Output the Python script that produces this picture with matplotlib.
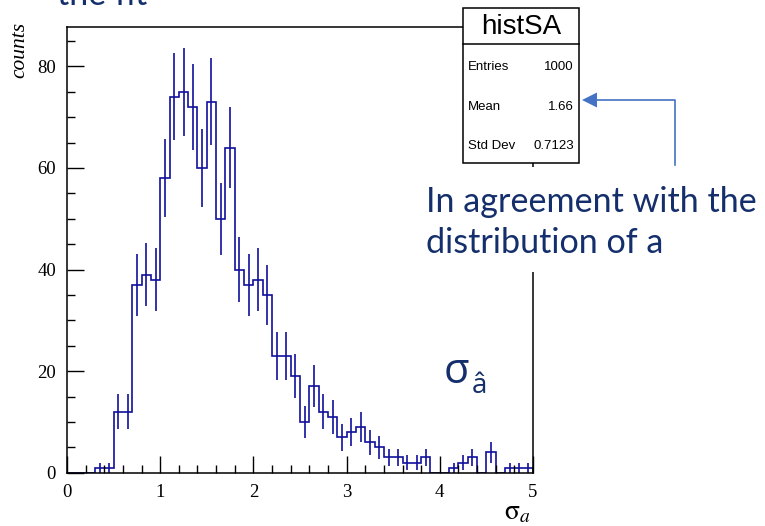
import numpy as np
import matplotlib.pyplot as plt
from matplotlib.patches import Rectangle
from matplotlib.ticker import MultipleLocator

# histSA contents: 50 bins of width 0.1 between 0 and 5
bin_edges = np.round(np.arange(0.0, 5.0001, 0.1), 1)
counts = [0, 0, 0, 1, 1, 12, 12, 37, 39, 38,
          58, 74, 75, 72, 60, 73, 50, 64, 40, 37,
          38, 35, 23, 23, 19, 10, 17, 12, 11, 7,
          8, 9, 6, 5, 3, 3, 2, 2, 3, 0,
          0, 1, 2, 3, 0, 4, 0, 1, 1, 1]

hist_name = 'histSA'
stat_names = ['Entries', 'Mean', 'Std Dev']
stat_values = ['1000', '1.66', '0.7123']

note_lines = ['In agreement with the', 'distribution of a']

HIST_COL = '#10109c'
NAVY = '#142f6b'
ARROW_COL = '#4472c4'

W, H = 765, 526
plt.rcParams['mathtext.fontset'] = 'stix'

fig = plt.figure(figsize=(W / 100, H / 100), dpi=100)

# main frame in pixel units
x0, x1, y_top, y_bot = 67, 533, 26.7, 472.7
ax = fig.add_axes([x0 / W, 1 - y_bot / H, (x1 - x0) / W, (y_bot - y_top) / H])

c = np.array(counts, dtype=float)
centers = 0.5 * (bin_edges[:-1] + bin_edges[1:])
nz = c > 0
ax.stairs(c, bin_edges, color=HIST_COL, lw=1.2)
ax.vlines(centers[nz], c[nz] - np.sqrt(c[nz]), c[nz] + np.sqrt(c[nz]),
          color=HIST_COL, lw=1.2)

ax.set_xlim(0, 5)
ax.set_ylim(0, 87.8)
ax.xaxis.set_major_locator(MultipleLocator(1))
ax.xaxis.set_minor_locator(MultipleLocator(0.2))
ax.yaxis.set_major_locator(MultipleLocator(20))
ax.yaxis.set_minor_locator(MultipleLocator(5))
ax.tick_params(which='both', direction='in', top=False, right=False, width=1)
ax.tick_params(which='major', length=12, labelsize=13.5, pad=8)
ax.tick_params(which='minor', length=6)
for lab in ax.get_xticklabels() + ax.get_yticklabels():
    lab.set_family('Liberation Serif')
for sp in ax.spines.values():
    sp.set_linewidth(1.1)

# overlay in pixel coordinates for the labels, stats box and note
ov = fig.add_axes([0, 0, 1, 1], zorder=5)
ov.set_xlim(0, W)
ov.set_ylim(H, 0)
ov.axis('off')
ov.patch.set_alpha(0)

ov.text(20, 22, 'counts', rotation=90, ha='center', va='top',
        fontsize=15.5, style='italic', family='Liberation Serif')
ov.text(531, 519, r'$\mathrm{\sigma}_{a}$', ha='right', va='baseline',
        fontsize=20)

# stats box
ov.add_patch(Rectangle((463, 8.3), 116, 154.4, fc='white', ec='black', lw=1.1))
ov.plot([463, 579], [44, 44], color='black', lw=1.1)
ov.text(521, 27, hist_name, ha='center', va='center', fontsize=20,
        family='Liberation Sans')
for i, (name, val) in enumerate(zip(stat_names, stat_values)):
    yy = 67 + i * 39.5
    ov.text(468, yy, name, ha='left', va='center', fontsize=9.5,
            family='Liberation Sans')
    ov.text(574, yy, val, ha='right', va='center', fontsize=9.5,
            family='Liberation Sans')

# note with elbow arrow pointing at the mean
ov.plot([675, 675, 596], [165, 100, 100], color=ARROW_COL, lw=1.2)
ov.fill([582, 597, 597], [100, 92.5, 107.5], color=ARROW_COL, lw=0)
ov.add_patch(Rectangle((420, 167), 345, 105, fc='white', ec='none'))
ov.text(426, 211.7, note_lines[0], ha='left', va='baseline', fontsize=24.6,
        family='Lato', color=NAVY)
ov.text(426, 253, note_lines[1], ha='left', va='baseline', fontsize=24.6,
        family='Lato', color=NAVY)

ov.text(444, 383, 'σ', ha='left', va='baseline', fontsize=30,
        family='Open Sans', color=NAVY)
ov.text(472, 393, 'â', ha='left', va='baseline', fontsize=20,
        family='Open Sans', color=NAVY)

# tail of the slide title above the frame
ov.text(57, 5, 'the fit', ha='left', va='baseline', fontsize=24.6,
        family='Lato', color=NAVY)

fig.savefig('out.png', dpi=100)
